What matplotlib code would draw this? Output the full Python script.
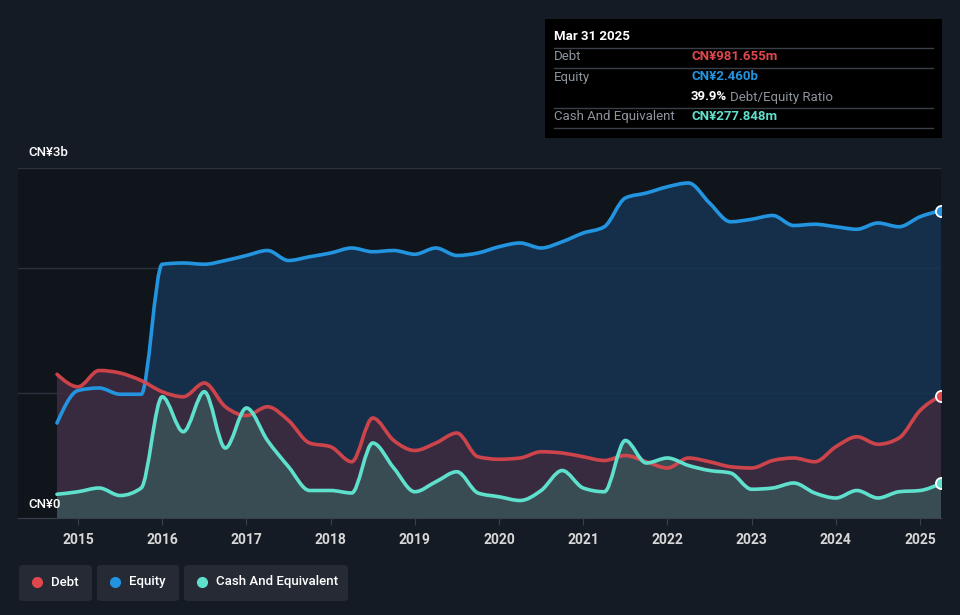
import numpy as np
import matplotlib
matplotlib.use("Agg")
import matplotlib.pyplot as plt
from matplotlib.patches import FancyBboxPatch, Rectangle, PathPatch
from matplotlib.path import Path
from matplotlib.lines import Line2D

plt.rcParams['font.family'] = ['Roboto', 'DejaVu Sans']

# quarterly dates, Sep 2014 .. Mar 2025 (decimal years)
dates = 2014.75 + 0.25 * np.arange(43)

# values in CN¥ billions
equity = [0.76, 1.02, 1.04, 0.99, 0.99, 2.03, 2.04, 2.03, 2.06, 2.10,
          2.14, 2.06, 2.09, 2.12, 2.16, 2.13, 2.14, 2.11, 2.16, 2.10,
          2.12, 2.17, 2.20, 2.16, 2.21, 2.28, 2.33, 2.56, 2.60, 2.65,
          2.68, 2.52, 2.37, 2.39, 2.42, 2.34, 2.35, 2.33, 2.31, 2.36,
          2.33, 2.41, 2.46]
debt = [1.15, 1.05, 1.18, 1.16, 1.10, 1.01, 0.97, 1.08, 0.89, 0.82,
        0.89, 0.78, 0.60, 0.57, 0.45, 0.80, 0.62, 0.54, 0.60, 0.68,
        0.49, 0.47, 0.48, 0.53, 0.52, 0.49, 0.46, 0.50, 0.45, 0.40,
        0.48, 0.45, 0.41, 0.40, 0.46, 0.48, 0.45, 0.57, 0.65, 0.59,
        0.64, 0.86, 0.98]
cash = [0.19, 0.21, 0.24, 0.18, 0.24, 0.97, 0.69, 1.01, 0.56, 0.88,
        0.62, 0.41, 0.22, 0.22, 0.20, 0.60, 0.40, 0.21, 0.29, 0.37,
        0.20, 0.17, 0.14, 0.22, 0.38, 0.24, 0.21, 0.62, 0.44, 0.48,
        0.42, 0.38, 0.36, 0.23, 0.24, 0.28, 0.20, 0.16, 0.22, 0.16,
        0.21, 0.22, 0.278]

years = list(range(2015, 2026))

BG = '#151b24'
RED = '#e0474c'
BLUE = '#2394df'
TEAL = '#5fe0cd'


def smooth_verts(x, y):
    # monotone cubic curve through the points, as bezier control points
    x = np.asarray(x, float)
    y = np.asarray(y, float)
    n = len(x)
    h = np.diff(x)
    s = np.diff(y) / h
    m = np.zeros(n)
    for i in range(1, n - 1):
        p = (s[i - 1] * h[i] + s[i] * h[i - 1]) / (h[i - 1] + h[i])
        m[i] = (np.sign(s[i - 1]) + np.sign(s[i])) * min(abs(s[i - 1]), abs(s[i]), 0.5 * abs(p))
    m[0] = (3 * s[0] - m[1]) / 2
    m[-1] = (3 * s[-1] - m[-2]) / 2
    verts = [(x[0], y[0])]
    codes = [Path.MOVETO]
    for i in range(n - 1):
        d = h[i] / 3
        verts += [(x[i] + d, y[i] + m[i] * d), (x[i + 1] - d, y[i + 1] - m[i + 1] * d),
                  (x[i + 1], y[i + 1])]
        codes += [Path.CURVE4] * 3
    return verts, codes


def draw_series(ax, x, y, line_col, fill_col, fill_alpha, z, line_alpha=1.0):
    verts, codes = smooth_verts(x, y)
    area = Path(verts + [(x[-1], 0), (x[0], 0), (x[0], y[0])],
                codes + [Path.LINETO, Path.LINETO, Path.CLOSEPOLY])
    ax.add_patch(PathPatch(area, facecolor=fill_col, alpha=fill_alpha, lw=0, zorder=z))
    ax.add_patch(PathPatch(Path(verts, codes), facecolor='none', edgecolor=line_col,
                           lw=2.6, alpha=line_alpha, capstyle='round', zorder=z + 4))


fig = plt.figure(figsize=(9.6, 6.15), dpi=100, facecolor=BG)
ax = fig.add_axes([18 / 960, 1 - 518 / 615, 923 / 960, 350 / 615])
ax.set_facecolor('#10141b')
ax.set_xlim(2014.287, 2025.249)
ax.set_ylim(0, 2.8)

# gridlines
for g in [1, 2, 2.8]:
    ax.axhline(g, color='#2c323c', lw=1, zorder=1)

draw_series(ax, dates, equity, BLUE, '#163553', 0.85, 2)
draw_series(ax, dates, debt, RED, '#3c2b3f', 0.9, 3, line_alpha=0.9)
draw_series(ax, dates, cash, TEAL, '#3b4e55', 0.95, 4)

for s, c in [(equity, BLUE), (debt, RED), (cash, TEAL)]:
    ax.plot(dates[-1], s[-1], 'o', ms=8, mfc=c, mec='white', mew=1.3,
            zorder=10, clip_on=True)

for side in ['top', 'right', 'left']:
    ax.spines[side].set_visible(False)
ax.spines['bottom'].set_color('#3a404a')
ax.set_yticks([])
ax.set_xticks(years)
ax.set_xticklabels([str(y) for y in years], color='#d8d8d8', fontsize=10,
                   fontweight='bold')
ax.tick_params(axis='x', color='#3a404a', length=5, pad=6)

fig.text(28 / 960, 1 - 153 / 615, 'CN¥3b', color='white', fontsize=9.5,
         fontweight='medium', va='center', ha='left')
fig.text(28 / 960, 1 - 504 / 615, 'CN¥0', color='white', fontsize=9.5,
         fontweight='medium', va='center', ha='left')

# tooltip box
fig.patches.append(Rectangle((545 / 960, 1 - 138 / 615), 397 / 960, 119 / 615,
                             transform=fig.transFigure, facecolor='black',
                             edgecolor='none', zorder=10))
fig.text(554 / 960, 1 - 36 / 615, 'Mar 31 2025', color='white', fontsize=9.5,
         fontweight='bold', va='center', zorder=11)
for yy in [48, 68, 108, 128]:
    fig.add_artist(Line2D([554 / 960, 933 / 960], [1 - yy / 615] * 2,
                          color='#3a3f47', lw=1, zorder=11))
rows = [(57, 'Debt', 'CN¥981.655m', RED),
        (77, 'Equity', 'CN¥2.460b', BLUE),
        (117, 'Cash And Equivalent', 'CN¥277.848m', TEAL)]
for yy, lab, val, c in rows:
    fig.text(554 / 960, 1 - yy / 615, lab, color='#8e949c', fontsize=9.5,
             va='center', zorder=11)
    fig.text(691 / 960, 1 - yy / 615, val, color=c, fontsize=9.5,
             fontweight='bold', va='center', zorder=11)
fig.text(691 / 960, 1 - 97 / 615, '39.9%', color='white', fontsize=9.5,
         fontweight='bold', va='center', zorder=11)
fig.text(730 / 960, 1 - 97 / 615, 'Debt/Equity Ratio', color='#8e949c',
         fontsize=9.5, va='center', zorder=11)

# legend
legend_items = [('Debt', RED, 19, 92), ('Equity', BLUE, 97, 179),
                ('Cash And Equivalent', TEAL, 184, 348)]
for lab, c, x0, x1 in legend_items:
    fig.patches.append(FancyBboxPatch((x0 / 960, 1 - 601 / 615),
                                      (x1 - x0) / 960, 36 / 615,
                                      boxstyle='round,pad=0,rounding_size=0.005',
                                      transform=fig.transFigure,
                                      facecolor='#252a34', edgecolor='none'))
    fig.add_artist(Line2D([(x0 + 18) / 960], [1 - 582 / 615], marker='o',
                          ms=7, color=c, lw=0))
    fig.text((x0 + 32) / 960, 1 - 582 / 615, lab, color='white', fontsize=9.5,
             fontweight='medium', va='center', ha='left')

fig.savefig('out.png', dpi=100, facecolor=BG)
